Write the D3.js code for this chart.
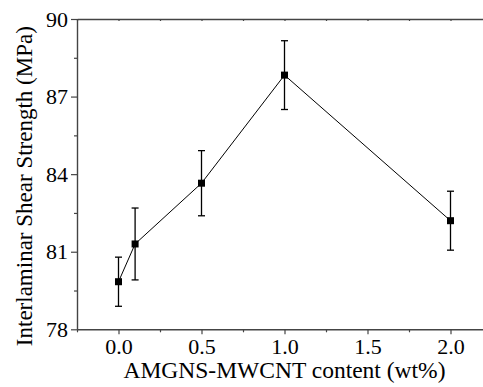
<!DOCTYPE html>
<html>
<head>
<meta charset="utf-8">
<script src="https://cdn.jsdelivr.net/npm/d3@7"></script>
</head>
<body style="margin:0; background:#fff">
<div id="chart-area"></div>
<script>
// AMGNS-MWCNT content (wt%) vs ILSS
const content = [0.0, 0.1, 0.5, 1.0, 2.0]
const strength = [79.84, 81.30, 83.65, 87.83, 82.20]
const errors = [0.95, 1.39, 1.26, 1.33, 1.14]
const xTicks = [0.0, 0.5, 1.0, 1.5, 2.0]
const yTicks = [78, 81, 84, 87, 90]

const W = 483, H = 387
const MARGIN = { left: 77, top: 19, bottom: 58 }
const FONT = '"Liberation Serif"'

const svg = d3.select("#chart-area").append("svg")
    .attr("width", W)
    .attr("height", H)
    .style("display", "block")

const x = d3.scaleLinear()
    .domain([-0.25, 2.25])
    .range([MARGIN.left, MARGIN.left + 2.5 * 166])

const y = d3.scaleLinear()
    .domain([78, 90])
    .range([H - MARGIN.bottom + 0.3, MARGIN.top])

const axisColor = "#444"

// minor ticks
const xMinor = d3.range(-0.25, 2.26, 0.25).filter(v => Math.abs(v * 2 - Math.round(v * 2)) > 0.01)
const yMinor = d3.range(79.5, 90, 3)

function styleAxis(g) {
    g.attr("font-family", null).attr("font-size", null)
    g.select(".domain").attr("stroke", axisColor).attr("stroke-width", 1.4)
    g.selectAll(".tick line").attr("stroke", axisColor).attr("stroke-width", 1.2)
    g.selectAll(".tick text").attr("fill", "#000")
        .style("font-family", FONT)
        .style("font-size", "22px")
}

// bottom axis
svg.append("g")
    .attr("transform", `translate(0, ${y(78)})`)
    .call(d3.axisBottom(x).tickValues(xTicks).tickSize(5).tickSizeOuter(0).tickPadding(4)
        .tickFormat(d3.format(".1f")))
    .call(styleAxis)
svg.append("g")
    .attr("transform", `translate(0, ${y(78)})`)
    .call(d3.axisBottom(x).tickValues(xMinor).tickSize(3).tickFormat(""))
    .call(g => g.select(".domain").remove())
    .call(styleAxis)

// top axis, ticks inside
svg.append("g")
    .attr("transform", `translate(0, ${y(90)})`)
    .call(d3.axisTop(x).tickValues(xTicks.concat(xMinor)).tickSize(-2).tickSizeOuter(0).tickFormat(""))
    .call(styleAxis)

// left axis
svg.append("g")
    .attr("transform", `translate(${x(-0.25)}, 0)`)
    .call(d3.axisLeft(y).tickValues(yTicks).tickSize(6).tickSizeOuter(0).tickPadding(3))
    .call(styleAxis)
svg.append("g")
    .attr("transform", `translate(${x(-0.25)}, 0)`)
    .call(d3.axisLeft(y).tickValues(yMinor).tickSize(3).tickFormat(""))
    .call(g => g.select(".domain").remove())
    .call(styleAxis)

// axis titles
svg.append("text")
    .attr("x", x(1.0))
    .attr("y", 378)
    .style("font-family", FONT)
    .style("font-size", "23.5px")
    .attr("text-anchor", "middle")
    .text("AMGNS-MWCNT content (wt%)")

svg.append("text")
    .attr("transform", `translate(32, ${(y(78) + y(90)) / 2 + 12}) rotate(-90)`)
    .style("font-family", FONT)
    .style("font-size", "23px")
    .attr("text-anchor", "middle")
    .text("Interlaminar Shear Strength (MPa)")

const data = content.map((c, i) => ({ c: c, v: strength[i], e: errors[i] }))

// line
svg.append("path")
    .datum(data)
    .attr("fill", "none")
    .attr("stroke", "#000")
    .attr("stroke-width", 1)
    .attr("d", d3.line().x(d => x(d.c)).y(d => y(d.v)))

// error bars
const eb = svg.append("g").attr("stroke", "#000").attr("stroke-width", 1.3)
data.forEach(d => {
    eb.append("line")
        .attr("x1", x(d.c)).attr("x2", x(d.c))
        .attr("y1", y(d.v - d.e)).attr("y2", y(d.v + d.e))
    eb.append("line")
        .attr("x1", x(d.c) - 3.5).attr("x2", x(d.c) + 3.5)
        .attr("y1", y(d.v - d.e)).attr("y2", y(d.v - d.e))
    eb.append("line")
        .attr("x1", x(d.c) - 3.5).attr("x2", x(d.c) + 3.5)
        .attr("y1", y(d.v + d.e)).attr("y2", y(d.v + d.e))
})

// markers
svg.selectAll("rect.pt")
    .data(data)
    .enter().append("rect")
    .attr("class", "pt")
    .attr("x", d => x(d.c) - 3.5)
    .attr("y", d => y(d.v) - 3.5)
    .attr("width", 7)
    .attr("height", 7)
    .attr("fill", "#000")
</script>
</body>
</html>
